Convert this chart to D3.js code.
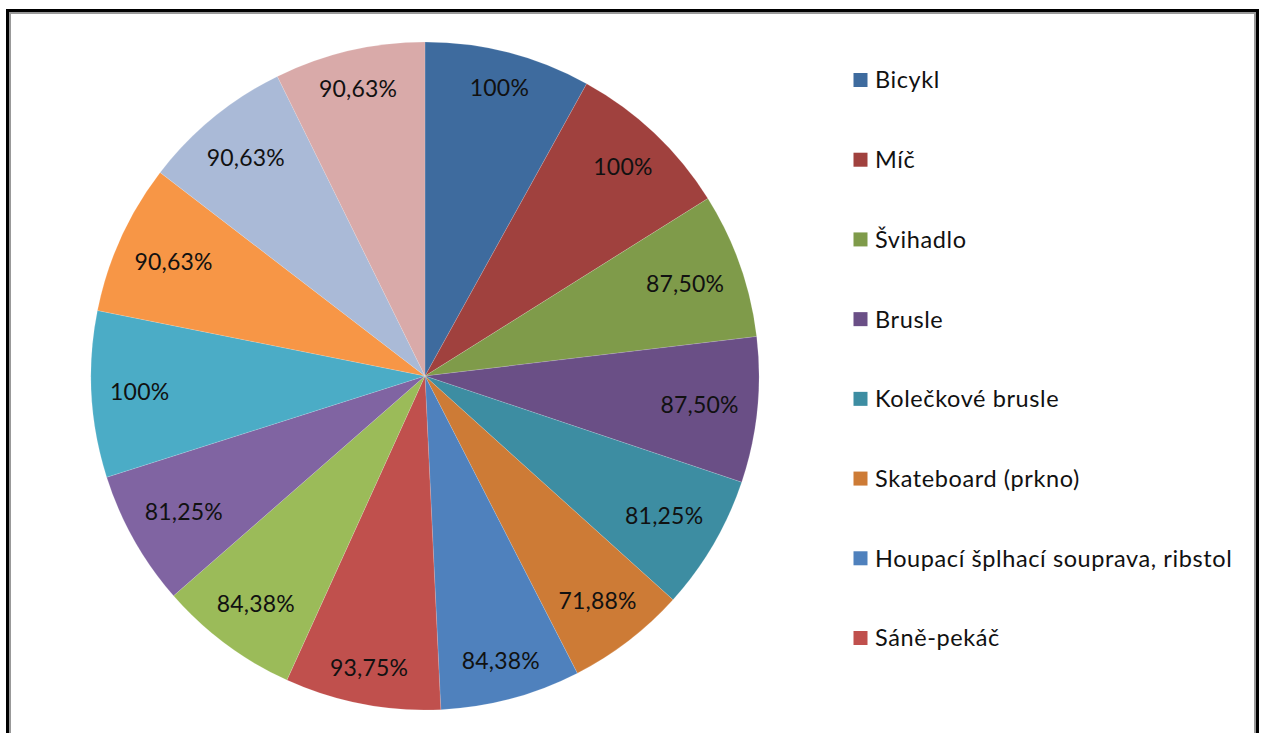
<!DOCTYPE html>
<html>
<head>
<meta charset="utf-8">
<script src="https://cdn.jsdelivr.net/npm/d3@7"></script>
<style>
  html, body { margin: 0; padding: 0; background: #fff; }
</style>
</head>
<body>
<svg id="chart"></svg>
<script>
// legend names (only the first 8 are visible in the legend)
const categories = ["Bicykl", "Míč", "Švihadlo", "Brusle", "Kolečkové brusle",
  "Skateboard (prkno)", "Houpací šplhací souprava, ribstol", "Sáně-pekáč"];

// percentages, clockwise from 12 o'clock
const values = [100, 100, 87.50, 87.50, 81.25, 71.88, 84.38, 93.75,
  84.38, 81.25, 100, 90.63, 90.63, 90.63];

const labels = ["100%", "100%", "87,50%", "87,50%", "81,25%", "71,88%", "84,38%",
  "93,75%", "84,38%", "81,25%", "100%", "90,63%", "90,63%", "90,63%"];

const colors = ["#3e6b9e", "#a0413e", "#7f9b4a", "#6a4f86", "#3d8da2", "#cd7b36",
  "#4f81bd", "#c0504d", "#9bbb59", "#8064a2", "#4bacc6", "#f79646",
  "#aabad7", "#d9aaa9"];

const W = 1265, H = 733;
const svg = d3.select("#chart").attr("width", W).attr("height", H);

svg.append("rect").attr("width", W).attr("height", H).attr("fill", "#fff");

// frame
svg.append("rect")
  .attr("x", 7.5).attr("y", 10.5).attr("width", 1250).attr("height", 800)
  .attr("fill", "none").attr("stroke", "#000").attr("stroke-width", 3);
svg.append("rect")
  .attr("x", 10).attr("y", 13).attr("width", 1245).attr("height", 800)
  .attr("fill", "none").attr("stroke", "#999").attr("stroke-width", 2);

// pie
const cx = 425, cy = 376, r = 334;
const pie = d3.pie().sort(null).value(d => d);
const arcs = pie(values);
const arc = d3.arc().innerRadius(0).outerRadius(r);

const g = svg.append("g").attr("transform", `translate(${cx},${cy})`);

g.selectAll("path")
  .data(arcs)
  .enter()
  .append("path")
  .attr("d", arc)
  .attr("fill", (d, i) => colors[i])
  .attr("stroke", "#fff")
  .attr("stroke-width", 0.4)
  .attr("stroke-opacity", 0.35);

// labels at "inside end"
const fontSize = 23;
const R = r - 18;
g.selectAll("text.lbl")
  .data(arcs)
  .enter()
  .append("text")
  .attr("class", "lbl")
  .style("font-family", "Lato, 'Open Sans', sans-serif")
  .style("font-size", fontSize + "px")
  .style("letter-spacing", "0.2px")
  .attr("fill", "#111")
  .attr("text-anchor", "middle")
  .attr("dy", "0.36em")
  .text((d, i) => labels[i])
  .each(function(d) {
    const w = this.getComputedTextLength();
    const h = fontSize - 3;
    const a = (d.startAngle + d.endAngle) / 2;
    const ux = Math.sin(a), uy = -Math.cos(a);
    const c = [Math.sign(ux) * w / 2, Math.sign(uy) * h / 2];
    const uc = ux * c[0] + uy * c[1];
    const cc = c[0] * c[0] + c[1] * c[1];
    const dist = -uc + Math.sqrt(uc * uc - cc + R * R);
    d3.select(this).attr("x", dist * ux).attr("y", dist * uy);
  });

// legend
const legendY = d3.scalePoint()
  .domain(categories)
  .range([80, 638]);

const leg = svg.selectAll("g.legend")
  .data(categories)
  .enter()
  .append("g")
  .attr("class", "legend")
  .attr("transform", d => `translate(853.5, ${legendY(d)})`);

leg.append("rect")
  .attr("x", 0).attr("y", -7)
  .attr("width", 14).attr("height", 14)
  .attr("fill", (d, i) => colors[i]);

leg.append("text")
  .attr("x", 21.5)
  .attr("dy", "0.36em")
  .style("font-family", "Lato, 'Open Sans', sans-serif")
  .style("font-size", "23.5px")
  .style("letter-spacing", "0.6px")
  .attr("fill", "#111")
  .text(d => d);
</script>
</body>
</html>
